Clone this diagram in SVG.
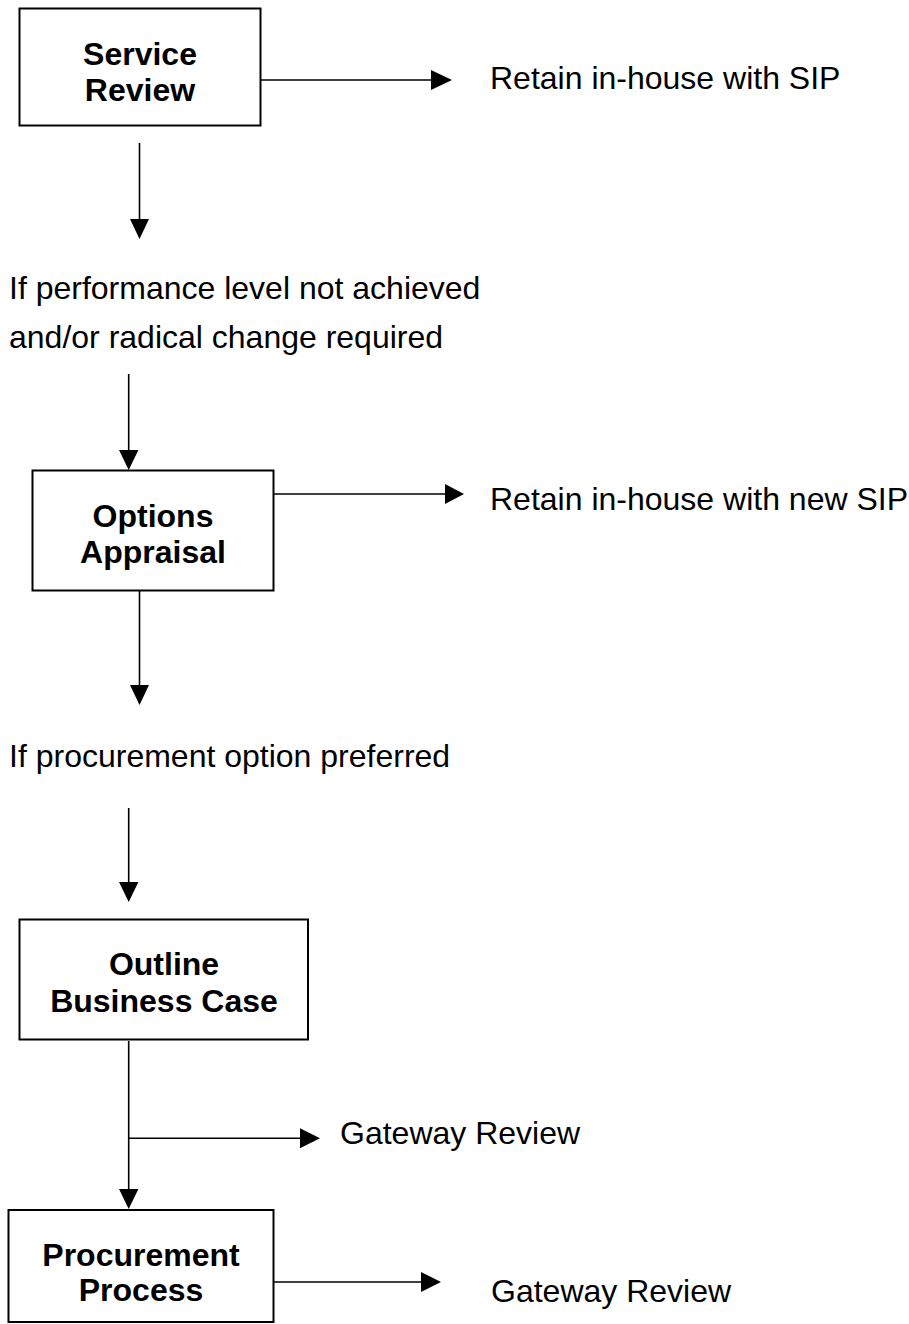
<svg xmlns="http://www.w3.org/2000/svg" width="909" height="1324" viewBox="0 0 909 1324">
<style>
.box{fill:#fff;stroke:#000;stroke-width:2}
.t{font-family:"Liberation Sans",Arial,sans-serif;font-size:32px;fill:#000}
.b{font-weight:bold;text-anchor:middle}
.ln{stroke:#000;stroke-width:1.6;fill:none}
.ah{fill:#000}
</style>
<rect width="909" height="1324" fill="#fff"/>
<g id="connectors">
<line class="ln" x1="261" y1="80" x2="432" y2="80"/><polygon class="ah" points="431,70 452,80 431,90"/>
<line class="ln" x1="139.5" y1="143" x2="139.5" y2="220"/><polygon class="ah" points="130,219 149,219 139.5,239"/>
<line class="ln" x1="128.7" y1="374" x2="128.7" y2="451"/><polygon class="ah" points="119,450 138.4,450 128.7,470"/>
<line class="ln" x1="274" y1="494" x2="446" y2="494"/><polygon class="ah" points="445,484 464,494 445,504"/>
<line class="ln" x1="139.5" y1="586" x2="139.5" y2="686"/><polygon class="ah" points="130,685 149,685 139.5,705"/>
<line class="ln" x1="128.7" y1="808" x2="128.7" y2="883"/><polygon class="ah" points="119,882 138.4,882 128.7,902"/>
<line class="ln" x1="128.7" y1="1041" x2="128.7" y2="1190"/><polygon class="ah" points="119,1189 138.4,1189 128.7,1209"/>
<line class="ln" x1="128.7" y1="1138.3" x2="301" y2="1138.3"/><polygon class="ah" points="300,1128.3 320,1138.3 300,1148.3"/>
<line class="ln" x1="274" y1="1282" x2="422" y2="1282"/><polygon class="ah" points="421,1272 441,1282 421,1292"/>
</g>
<g id="service-review">
<rect class="box" x="19.5" y="8.5" width="241" height="117"/>
<text class="t b" x="140" y="65">Service</text>
<text class="t b" x="140" y="101">Review</text>
</g>
<g id="retain-sip"><text class="t" x="490" y="89">Retain in-house with SIP</text></g>
<g id="cond-1">
<text class="t" x="9" y="299">If performance level not achieved</text>
<text class="t" x="9" y="348">and/or radical change required</text>
</g>
<g id="options-appraisal">
<rect class="box" x="32.5" y="470.5" width="241" height="120"/>
<text class="t b" x="153" y="527">Options</text>
<text class="t b" x="153" y="563">Appraisal</text>
</g>
<g id="retain-new-sip"><text class="t" x="490" y="510">Retain in-house with new SIP</text></g>
<g id="cond-2"><text class="t" x="9" y="767">If procurement option preferred</text></g>
<g id="outline-business-case">
<rect class="box" x="19.5" y="919.5" width="288.5" height="120"/>
<text class="t b" x="164" y="975">Outline</text>
<text class="t b" x="164" y="1012">Business Case</text>
</g>
<g id="gateway-1"><text class="t" x="340" y="1144">Gateway Review</text></g>
<g id="procurement-process">
<rect class="box" x="8.5" y="1210" width="265" height="112"/>
<text class="t b" x="141" y="1266">Procurement</text>
<text class="t b" x="141" y="1301">Process</text>
</g>
<g id="gateway-2"><text class="t" x="491" y="1302">Gateway Review</text></g>
</svg>
